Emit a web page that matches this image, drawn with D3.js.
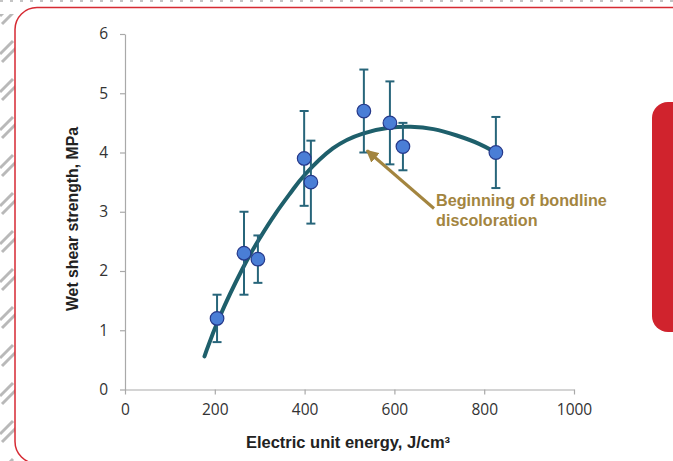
<!DOCTYPE html>
<html>
<head>
<meta charset="utf-8">
<script src="https://cdn.jsdelivr.net/npm/d3@7"></script>
<style>
  html, body { margin: 0; padding: 0; background: #fff; }
  svg { display: block; font-family: "Liberation Sans", Arial, sans-serif; }
</style>
</head>
<body>
<svg id="chart" width="673" height="461"></svg>
<script>
// ---- data ----
const energy   = [205, 265, 296, 399, 414, 532, 590, 619, 826];
const strength = [1.2, 2.3, 2.2, 3.9, 3.5, 4.7, 4.5, 4.1, 4.0];
const errHigh  = [1.6, 3.0, 2.6, 4.7, 4.2, 5.4, 5.2, 4.5, 4.6];
const errLow   = [0.8, 1.6, 1.8, 3.1, 2.8, 4.0, 3.8, 3.7, 3.4];
// trend curve
const trendX = [177, 206, 266, 297, 334, 379, 390, 464, 531, 590, 635, 687, 739, 791, 828];
const trendY = [0.56, 1.18, 2.12, 2.52, 2.97, 3.42, 3.55, 4.13, 4.34, 4.43, 4.44, 4.41, 4.29, 4.15, 3.99];
const xTicks = [0, 200, 400, 600, 800, 1000];
const yTicks = [0, 1, 2, 3, 4, 5, 6];
const xTitle = "Electric unit energy, J/cm³";
const yTitle = "Wet shear strength, MPa";
const noteLines = ["Beginning of bondline", "discoloration"];
const notePoint = [532, 4.0];

const svg = d3.select("#chart");

// ---- decoration: hatch + frame ----
const defs = svg.append("defs");
const pat = defs.append("pattern").attr("id", "hatch")
  .attr("patternUnits", "userSpaceOnUse").attr("width", 16).attr("height", 38);
pat.append("line").attr("x1", 0).attr("y1", 16).attr("x2", 13).attr("y2", 3)
  .attr("stroke", "#b9b9b9").attr("stroke-width", 3);
pat.append("line").attr("x1", 2).attr("y1", 24).attr("x2", 16).attr("y2", 10)
  .attr("stroke", "#b9b9b9").attr("stroke-width", 3);
svg.append("rect").attr("x", 0).attr("y", 14).attr("width", 15).attr("height", 447)
  .attr("fill", "url(#hatch)");
svg.append("line").attr("x1", 0).attr("x2", 673).attr("y1", 1).attr("y2", 1)
  .attr("stroke", "#c4c4c4").attr("stroke-width", 2).attr("stroke-dasharray", "3,7");

svg.append("rect").attr("x", 15).attr("y", 7.5).attr("width", 720).attr("height", 456)
  .attr("rx", 22).attr("fill", "#fff").attr("stroke", "#d62a33").attr("stroke-width", 1.5);

svg.append("rect").attr("x", 652).attr("y", 102).attr("width", 60).attr("height", 230)
  .attr("rx", 16).attr("fill", "#d0232d");

// ---- scales ----
const x = d3.scaleLinear().domain([0, 1000]).range([125, 574]);
const y = d3.scaleLinear().domain([0, 6]).range([389.5, 34]);

const axisColor = "#a9a9a9";
const gx = svg.append("g").attr("transform", `translate(0,${y(0)})`)
  .call(d3.axisBottom(x).tickValues(xTicks).tickFormat(d3.format("d"))
    .tickSize(5).tickPadding(9).tickSizeOuter(0));
const gy = svg.append("g").attr("transform", `translate(${x(0)},0)`)
  .call(d3.axisLeft(y).tickValues(yTicks).tickFormat(d3.format("d"))
    .tickSize(5).tickPadding(12).tickSizeOuter(0));
[gx, gy].forEach(g => {
  g.select(".domain").attr("stroke", axisColor).attr("stroke-width", 1.2);
  g.selectAll(".tick line").attr("stroke", axisColor).attr("stroke-width", 1.2);
  g.selectAll(".tick text").attr("fill", "#333").style("font-size", "15.5px")
    .style("font-family", '"Open Sans", "Liberation Sans", Arial, sans-serif');
});

// titles
svg.append("text").attr("x", 348).attr("y", 448).attr("text-anchor", "middle")
  .attr("fill", "#222").style("font-size", "16.5px").style("font-weight", "bold")
  .text(xTitle);
svg.append("text").attr("transform", `translate(78,${219}) rotate(-90)`)
  .attr("text-anchor", "middle").attr("fill", "#222")
  .style("font-size", "15.8px").style("font-weight", "bold").text(yTitle);

// ---- trend curve ----
const trend = trendX.map((v, i) => [v, trendY[i]]);
svg.append("path").datum(trend)
  .attr("d", d3.line().x(d => x(d[0])).y(d => y(d[1])).curve(d3.curveBasis))
  .attr("fill", "none").attr("stroke", "#1e5f6b").attr("stroke-width", 4)
  .attr("stroke-linecap", "round");

// ---- error bars ----
const barColor = "#27657a";
const eg = svg.append("g");
energy.forEach((e, i) => {
  const cx = x(e);
  eg.append("line").attr("x1", cx).attr("x2", cx).attr("y1", y(errHigh[i])).attr("y2", y(errLow[i]))
    .attr("stroke", barColor).attr("stroke-width", 2);
  [errHigh[i], errLow[i]].forEach(v => {
    eg.append("line").attr("x1", cx - 4.5).attr("x2", cx + 4.5).attr("y1", y(v)).attr("y2", y(v))
      .attr("stroke", barColor).attr("stroke-width", 2);
  });
});

// ---- points ----
svg.append("g").selectAll("circle").data(energy).join("circle")
  .attr("cx", d => x(d)).attr("cy", (d, i) => y(strength[i])).attr("r", 6.8)
  .attr("fill", "#4a7ed6").attr("stroke", "#26398a").attr("stroke-width", 1.2);

// ---- annotation ----
const noteColor = "#a3853f";
defs.append("marker").attr("id", "arr").attr("viewBox", "0 0 10 10")
  .attr("refX", 9).attr("refY", 5).attr("markerWidth", 4.2).attr("markerHeight", 4.2)
  .attr("markerUnits", "strokeWidth").attr("orient", "auto")
  .append("path").attr("d", "M0,0 L10,5 L0,10 Z").attr("fill", noteColor);
svg.append("line").attr("x1", 434).attr("y1", 208.5)
  .attr("x2", x(notePoint[0]) + 3).attr("y2", y(notePoint[1]) - 2)
  .attr("stroke", noteColor).attr("stroke-width", 3).attr("marker-end", "url(#arr)");
const nt = svg.append("text").attr("fill", noteColor).style("font-size", "16.2px").style("font-weight", "bold");
noteLines.forEach((t, i) => {
  nt.append("tspan").attr("x", 436).attr("y", 206 + i * 20).text(t);
});
</script>
</body>
</html>
